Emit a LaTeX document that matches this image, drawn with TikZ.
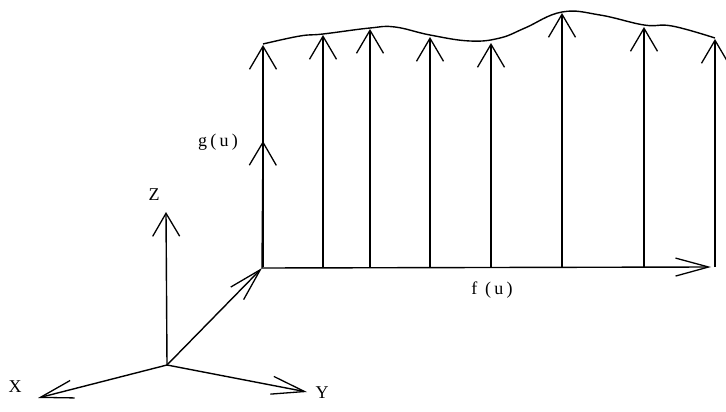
\documentclass[tikz,border=0pt]{standalone}
\usepackage{fontspec}
\setmainfont{Liberation Serif}
\newfontfamily\spacedfont[LetterSpace=18]{Liberation Serif}
\usepackage{tikz}
\usetikzlibrary{arrows.meta,positioning}

\begin{document}
\begin{tikzpicture}[
  x=1pt, y=-1pt,
  vec/.style={line width=1.4pt, -{Straight Barb[length=23pt, width=27pt, line width=1.3pt]}},
  lvec/.style={line width=1.4pt, -{Straight Barb[length=33pt, width=18pt, line width=1.3pt]}},
  lbl/.style={inner sep=1pt, font=\fontsize{18}{21}\selectfont},
  slbl/.style={inner sep=1pt, font=\spacedfont\fontsize{18}{21}\selectfont}
]
  \useasboundingbox (0,0) rectangle (726,412);

  % axes
  \coordinate (o) at (167,365);
  \coordinate (zt) at (166,212);
  \coordinate (xt) at (38,398);
  \coordinate (yt) at (307,392);
  \coordinate (base) at (262,268);
  \draw[vec] (o) -- (zt);
  \draw[lvec] (o) -- (xt);
  \draw[lvec] (o) -- (yt);
  \draw[lvec] (o) -- (base);
  \node[lbl] (zlab) at (154,195) {Z};
  \node[lbl] (xlab) at (15,387) {X};
  \node[lbl] (ylab) at (322,393) {Y};

  % f(u) direction
  \coordinate (ft) at (711,267);
  \draw[lvec] (base) -- (ft);
  \node[slbl] (flab) at (492,290) {f (u)};

  % g(u) vectors
  \foreach \i/\x/\y in {1/263/45, 2/323/35, 3/370/29, 4/430/37, 5/491/43, 6/562/13, 7/644/27, 8/715/39} {
    \coordinate (b\i) at (\x,267);
    \coordinate (t\i) at (\x,\y);
    \draw[vec] (b\i) -- (t\i);
  }
  \coordinate (gt) at (263,141);
  \draw[vec] (base) -- (gt);
  \node[slbl] (glab) at (218,142) {g(u)};

  % envelope
  \draw[line width=1.4pt] plot[smooth, tension=0.7] coordinates {
    (263,44) (300,36) (323,34) (370,28) (395,27) (430,35) (470,41) (500,38)
    (525,28) (562,12) (600,15) (644,25) (672,26) (715,38)};
\end{tikzpicture}
\end{document}
